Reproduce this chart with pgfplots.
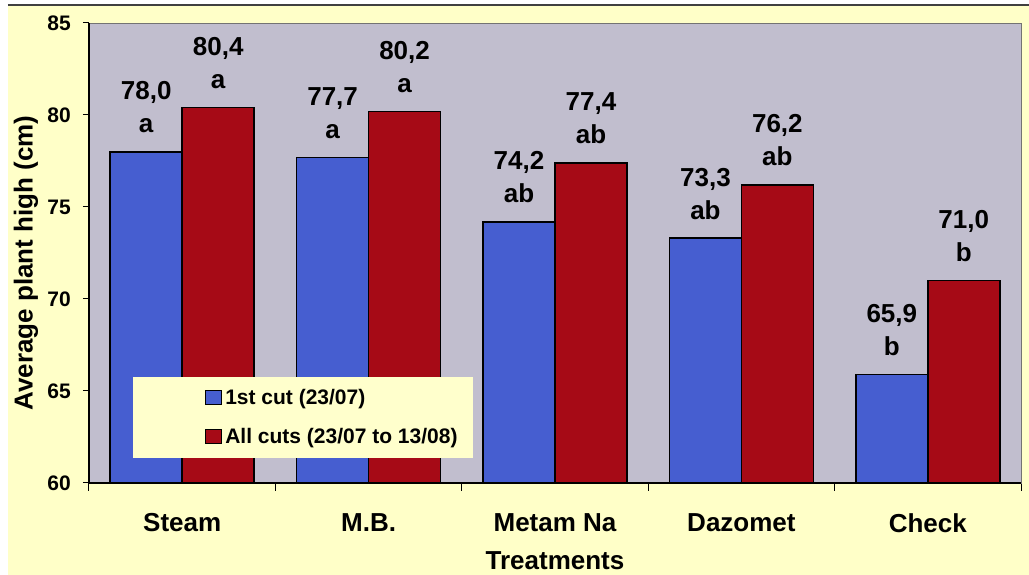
\documentclass[border=0pt]{standalone}
\usepackage{pgfplots}
\pgfplotsset{compat=1.18}
\usepackage{pgfplotstable}
\usepackage{fontspec}
\setmainfont{Liberation Sans}

\definecolor{cutblue}{RGB}{70,94,208}
\definecolor{cutred}{RGB}{166,10,22}
\definecolor{plotbg}{RGB}{193,190,206}
\definecolor{pagebg}{RGB}{255,255,200}
\definecolor{legbg}{RGB}{255,255,204}

\pgfkeys{/pgf/number format/assume math mode=true}

\pgfplotsset{
  boxlegend/.style={legend image code/.code={%
    \draw[##1, line width=1.5bp] (0bp,-7bp) rectangle (16bp,7bp);}},
}

% plant height per treatment, with significance letters
\pgfplotstableread{
x first firstg all allg
0 78.0 a 80.4 a
1 77.7 a 80.2 a
2 74.2 ab 77.4 ab
3 73.3 ab 76.2 ab
4 65.9 b 71.0 b
}\heights

\begin{document}
\begin{tikzpicture}[x=1bp,y=1bp]
% page background
\fill[white] (-89,-92) rectangle (940,483);
\fill[pagebg] (-81,-92) rectangle (940,478);
\draw[black!75, line width=1.5bp] (-81,478) -- (940,478);

\begin{axis}[
  name=ax,
  at={(0,0)}, anchor=south west,
  scale only axis, width=932bp, height=460bp,
  xmin=-0.5, xmax=4.5, ymin=60, ymax=85,
  ybar=0pt, bar width=0.386,
  axis background/.style={fill=plotbg},
  axis line style={draw=black!55, line width=0.8bp},
  xtick={0,...,4},
  xticklabels={Steam,M.B.,Metam Na,Dazomet,Check},
  minor xtick={-0.5,0.5,...,4.5},
  ytick={60,65,...,85},
  tick pos=left,
  tick align=outside,
  major tick length=6bp, minor tick length=8bp,
  every tick/.style={black, line width=1bp},
  major x tick style={draw=none},
  xticklabel shift=24bp,
  yticklabel shift=12bp,
  xticklabel style={font=\fontsize{26bp}{30bp}\selectfont\bfseries, anchor=north, inner sep=0pt},
  yticklabel style={font=\fontsize{21bp}{24bp}\selectfont\bfseries, anchor=east, inner sep=0pt},
  xlabel={Treatments},
  ylabel={Average plant high (cm)},
  xlabel style={at={(axis description cs:0.5,-0.189)}, anchor=base, font=\fontsize{26bp}{30bp}\selectfont\bfseries},
  ylabel style={at={(axis description cs:-0.0677,0.478)}, anchor=center, font=\fontsize{26bp}{30bp}\selectfont\bfseries},
  point meta=explicit symbolic,
  nodes near coords={\pgfmathprintnumber[fixed,fixed zerofill,precision=1,use comma]{\barval}\\\pgfplotspointmeta},
  nodes near coords style={font=\fontsize{26bp}{33bp}\selectfont\bfseries, align=center, anchor=south, inner sep=0pt, yshift=18bp, text=black},
  legend style={draw=none, fill=none, at={(0.124,0.1435)}, anchor=west, inner sep=0pt,
    row sep=22bp, column sep=3bp,
    font=\fontsize{21bp}{24bp}\selectfont\bfseries,
    nodes={inner sep=0pt, anchor=west}},
  legend cell align=left,
]
\addplot[fill=cutblue, draw=black, line width=1.6bp, boxlegend,
  visualization depends on={rawy \as \barval}]
  table[x=x, y=first, meta=firstg] {\heights};
\addlegendentry{1st cut (23/07)}
\addplot[fill=cutred, draw=black, line width=1.6bp, boxlegend,
  visualization depends on={rawy \as \barval}]
  table[x=x, y=all, meta=allg] {\heights};
\addlegendentry{All cuts (23/07 to 13/08)}
% legend panel
\fill[legbg] (rel axis cs:0.0472,0.0543) rectangle (rel axis cs:0.412,0.2304);
\end{axis}
\draw[black, line width=2bp] (ax.north west) -- (ax.south west) -- (ax.south east);

\pgfresetboundingbox
\path (-89,-92) rectangle (940,483);
\end{tikzpicture}
\end{document}
